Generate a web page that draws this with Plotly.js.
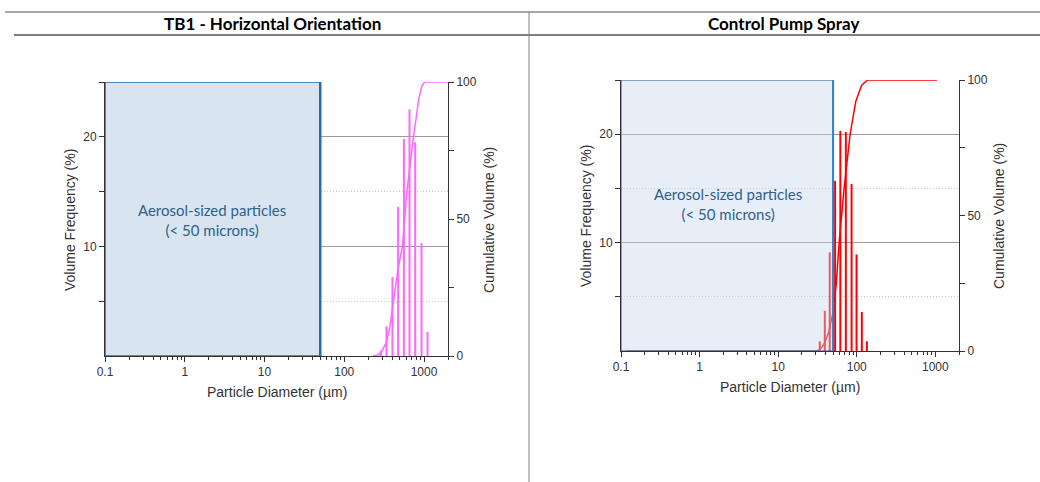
<!DOCTYPE html>
<html>
<head>
<meta charset="utf-8">
<script src="https://cdn.plot.ly/plotly-3.0.1.min.js"></script>
<style>html,body{margin:0;padding:0;background:#fff;}#chart{width:1040px;height:482px;}</style>
</head>
<body>
<div id="chart"></div>
<script>
// ---- Data ----
const panelTitles = ["TB1 - Horizontal Orientation", "Control Pump Spray"];
const boxLabel = "Aerosol-sized particles<br>(< 50 microns)";
const aerosolLimit = 50;

// TB1 - Horizontal Orientation: volume frequency bars (µm, %)
const tbSizes = [288, 338, 402, 474, 560, 658, 776, 931, 1107];
const tbFreq  = [0.5, 2.7, 7.2, 13.6, 19.8, 22.5, 19.5, 10.3, 2.2];
// cumulative volume curve
const tbCumSizes = [230, 260, 290, 338, 370, 402, 474, 537, 610, 738, 863, 940, 1014, 2000];
const tbCumVals  = [0, 0.3, 1.2, 5, 10, 17, 32, 40, 60, 80, 94, 98.5, 100, 100];

// Control Pump Spray
const cpSizes = [33.8, 39.2, 45.3, 53.0, 61.8, 72.6, 85.9, 99.4, 116, 134.5];
const cpFreq  = [0.9, 3.7, 9.1, 15.7, 20.3, 20.2, 15.4, 8.9, 3.6, 0.9];
const cpCumSizes = [0.12, 30, 32.8, 36, 39, 44, 49.6, 55, 59.6, 69, 82.4, 97, 115, 137, 1050];
const cpCumVals  = [0, 0, 0.3, 1.5, 3, 7, 14, 25, 40, 60, 80, 92, 98, 100, 100];

const xTickVals = [0.1, 1, 10, 100, 1000];
const xTickText = ["0.1", "1", "10", "100", "1000"];
const freqTickVals = [10, 20];
const freqMinorVals = [5, 15, 25];
const cumTickVals = [0, 50, 100];
const cumMinorVals = [25, 75];

// ---- helpers ----
function stems(xs, ys) {
  const X = [], Y = [];
  xs.forEach((x, i) => { X.push(x, x, null); Y.push(0, ys[i], null); });
  return {X, Y};
}
const W = 1040, H = 482;
const px = v => v / W;
const py = v => 1 - v / H;

const tbS = stems(tbSizes, tbFreq);
const cpS = stems(cpSizes, cpFreq);

const traces = [
  {x: tbS.X, y: tbS.Y, xaxis: 'x', yaxis: 'y', mode: 'lines', type: 'scatter',
   line: {color: '#ff66ff', width: 2}, hoverinfo: 'skip', showlegend: false},
  {x: tbCumSizes, y: tbCumVals, xaxis: 'x', yaxis: 'y2', mode: 'lines', type: 'scatter',
   line: {color: '#ff66ff', width: 1.5}, showlegend: false},
  {x: cpS.X, y: cpS.Y, xaxis: 'x2', yaxis: 'y3', mode: 'lines', type: 'scatter',
   line: {color: '#ff0000', width: 2}, hoverinfo: 'skip', showlegend: false},
  {x: cpCumSizes, y: cpCumVals, xaxis: 'x2', yaxis: 'y4', mode: 'lines', type: 'scatter',
   line: {color: '#ff0000', width: 1.5}, showlegend: false}
];

const tickFont = {family: 'Liberation Sans, Arial, sans-serif', size: 12, color: '#333'};
const axisCol = '#333';
const xLog = (dom, anchor) => ({
  type: 'log', range: [-1, 3.301], domain: dom, anchor: anchor,
  tickvals: xTickVals, ticktext: xTickText, ticks: 'outside', ticklen: 5, tickcolor: axisCol,
  minor: {ticks: 'outside', ticklen: 3, tickcolor: axisCol, dtick: 'D1', showgrid: false},
  showline: true, linecolor: axisCol, linewidth: 1, showgrid: false, zeroline: false,
  tickfont: tickFont, fixedrange: true
});
const xTop = (overlay, anchor) => ({
  type: 'log', range: [-1, 3.301], overlaying: overlay, anchor: anchor, side: 'top',
  tickvals: xTickVals, ticks: 'inside', ticklen: 4, tickcolor: axisCol, showticklabels: false,
  minor: {ticks: 'inside', ticklen: 2, tickcolor: axisCol, dtick: 'D1', showgrid: false},
  showline: false, showgrid: false, zeroline: false
});
const yFreq = (dom, anchor) => ({
  range: [0, 25], domain: dom, anchor: anchor,
  tickvals: freqTickVals, ticks: 'outside', ticklen: 5, tickcolor: axisCol,
  showgrid: true, gridcolor: '#9a9a9a', gridwidth: 1,
  minor: {tickvals: freqMinorVals, ticks: 'outside', ticklen: 5, tickcolor: axisCol,
          showgrid: true, gridcolor: '#c8c8c8', griddash: '1px,2px', gridwidth: 1},
  showline: true, linecolor: axisCol, zeroline: false, tickfont: tickFont, fixedrange: true
});
const yCum = (overlay, anchor) => ({
  range: [0, 100], overlaying: overlay, anchor: anchor, side: 'right',
  tickvals: cumTickVals, ticks: 'outside', ticklen: 5, tickcolor: axisCol,
  minor: {tickvals: cumMinorVals, ticks: 'outside', ticklen: 5, tickcolor: axisCol, showgrid: false},
  showline: true, linecolor: axisCol, showgrid: false, zeroline: false, tickfont: tickFont, fixedrange: true
});

const leftX = [px(105), px(448)], leftY = [py(356), py(82)];
const rightX = [px(621), px(959)], rightY = [py(351), py(80)];

const titleFont = {family: 'Liberation Sans, Arial, sans-serif', size: 14, color: '#333'};
const headFont = {family: 'Lato, Open Sans, sans-serif', size: 17, color: '#000'};
const boxFont = {family: 'Lato, Open Sans, sans-serif', size: 15, color: '#2e5f8e'};

const layout = {
  width: W, height: H, margin: {l: 0, r: 0, t: 0, b: 0, pad: 0},
  paper_bgcolor: '#fff', plot_bgcolor: 'rgba(0,0,0,0)', showlegend: false,
  xaxis: xLog(leftX, 'y'),
  yaxis: yFreq(leftY, 'x'),
  yaxis2: yCum('y', 'x'),
  xaxis2: xLog(rightX, 'y3'),
  yaxis3: yFreq(rightY, 'x2'),
  yaxis4: yCum('y3', 'x2'),
  xaxis3: xTop('x', 'y'),
  xaxis4: xTop('x2', 'y3'),
  shapes: [
    // table frame
    {type: 'line', xref: 'paper', yref: 'paper', x0: px(5), x1: 1, y0: py(12), y1: py(12), line: {color: '#a6a6a6', width: 2}},
    {type: 'line', xref: 'paper', yref: 'paper', x0: px(14), x1: 1, y0: py(35), y1: py(35), line: {color: '#000', width: 1}},
    {type: 'line', xref: 'paper', yref: 'paper', x0: px(529), x1: px(529), y0: py(12), y1: 0, line: {color: '#808080', width: 1}},
    // left aerosol box (opaque)
    {type: 'rect', xref: 'x', yref: 'y', x0: 0.1, x1: aerosolLimit, y0: 0, y1: 25, layer: 'above',
     fillcolor: '#d8e5f1', line: {color: '#2a6aa3', width: 1.5}},
    {type: 'line', xref: 'x', yref: 'y', x0: aerosolLimit, x1: aerosolLimit, y0: 0, y1: 25, layer: 'above',
     line: {color: '#1f6fb2', width: 2.5}},
    // right aerosol box (translucent)
    {type: 'rect', xref: 'x2', yref: 'y3', x0: 0.1, x1: aerosolLimit, y0: 0, y1: 25, layer: 'above',
     fillcolor: 'rgba(200,214,238,0.42)', line: {color: 'rgba(60,110,160,0.8)', width: 1.5}},
    {type: 'line', xref: 'x2', yref: 'y3', x0: aerosolLimit, x1: aerosolLimit, y0: 0, y1: 25, layer: 'above',
     line: {color: '#2b86cf', width: 2}}
  ],
  annotations: [
    {text: '<b>' + panelTitles[0] + '</b>', xref: 'paper', yref: 'paper', x: px(272), y: py(23), showarrow: false, font: headFont, xanchor: 'center', yanchor: 'middle'},
    {text: '<b>' + panelTitles[1] + '</b>', xref: 'paper', yref: 'paper', x: px(783), y: py(23), showarrow: false, font: headFont, xanchor: 'center', yanchor: 'middle'},
    {text: boxLabel, xref: 'paper', yref: 'paper', x: px(212), y: py(220), showarrow: false, font: boxFont, align: 'center', xanchor: 'center', yanchor: 'middle'},
    {text: boxLabel, xref: 'paper', yref: 'paper', x: px(728), y: py(204), showarrow: false, font: boxFont, align: 'center', xanchor: 'center', yanchor: 'middle'},
    {text: 'Particle Diameter (µm)', xref: 'paper', yref: 'paper', x: px(276.5), y: py(392), showarrow: false, font: titleFont, xanchor: 'center', yanchor: 'middle'},
    {text: 'Particle Diameter (µm)', xref: 'paper', yref: 'paper', x: px(790), y: py(387), showarrow: false, font: titleFont, xanchor: 'center', yanchor: 'middle'},
    {text: 'Volume Frequency (%)', xref: 'paper', yref: 'paper', x: px(70), y: py(220), textangle: -90, showarrow: false, font: titleFont, xanchor: 'center', yanchor: 'middle'},
    {text: 'Cumulative Volume (%)', xref: 'paper', yref: 'paper', x: px(489), y: py(220), textangle: -90, showarrow: false, font: titleFont, xanchor: 'center', yanchor: 'middle'},
    {text: 'Volume Frequency (%)', xref: 'paper', yref: 'paper', x: px(586), y: py(216), textangle: -90, showarrow: false, font: titleFont, xanchor: 'center', yanchor: 'middle'},
    {text: 'Cumulative Volume (%)', xref: 'paper', yref: 'paper', x: px(999), y: py(216), textangle: -90, showarrow: false, font: titleFont, xanchor: 'center', yanchor: 'middle'}
  ]
};

Plotly.newPlot('chart', traces, layout, {displayModeBar: false, staticPlot: true});
</script>
</body>
</html>
